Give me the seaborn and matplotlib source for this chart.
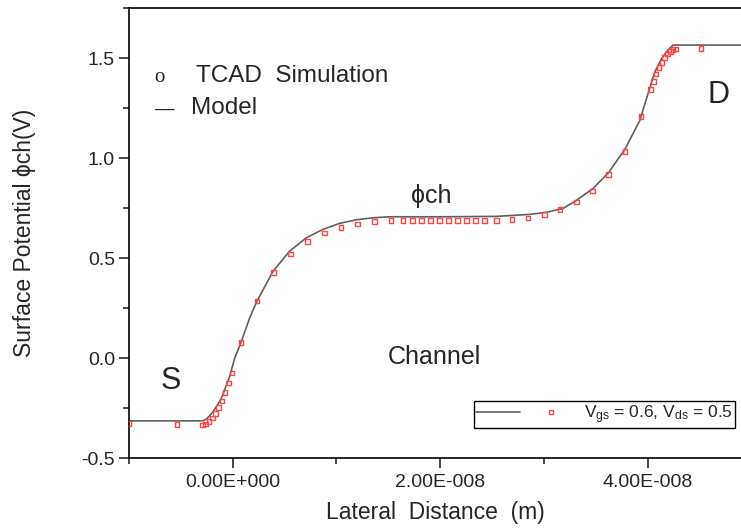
import numpy as np
import pandas as pd
import seaborn as sns
import matplotlib.pyplot as plt
from matplotlib.lines import Line2D
from matplotlib.legend_handler import HandlerTuple
from matplotlib.ticker import FixedLocator, AutoMinorLocator

# === Data (x in units of 1e-8 m) ===
tcad_x = [-1.0, -0.537, -0.292, -0.260, -0.228, -0.196, -0.164, -0.135, -0.103, -0.074,
          -0.041, -0.007, 0.080, 0.234, 0.395, 0.559, 0.723, 0.884, 1.044, 1.205,
          1.366, 1.526, 1.641, 1.732, 1.819, 1.906, 1.992, 2.079, 2.166, 2.253,
          2.339, 2.426, 2.542, 2.692, 2.846, 3.004, 3.155, 3.313, 3.467, 3.624,
          3.781, 3.935, 4.026, 4.055, 4.080, 4.109, 4.138, 4.161, 4.190, 4.219,
          4.244, 4.273, 4.514]
tcad_y = [-0.326, -0.332, -0.334, -0.329, -0.317, -0.299, -0.277, -0.247, -0.214, -0.170,
          -0.124, -0.074, 0.079, 0.286, 0.428, 0.521, 0.585, 0.627, 0.655, 0.672,
          0.683, 0.688, 0.688, 0.688, 0.688, 0.688, 0.688, 0.688, 0.688, 0.688,
          0.688, 0.688, 0.688, 0.693, 0.702, 0.718, 0.743, 0.782, 0.837, 0.919,
          1.036, 1.210, 1.345, 1.385, 1.422, 1.454, 1.480, 1.504, 1.522, 1.535,
          1.544, 1.547, 1.550]

model_x = [-1.0, -0.29, -0.26, -0.228, -0.196, -0.156, -0.108, -0.029, 0.019, 0.080,
           0.164, 0.234, 0.390, 0.549, 0.710, 0.870, 1.031, 1.192, 1.353, 1.513,
           2.0, 2.542, 2.863, 3.024, 3.184, 3.306, 3.474, 3.624, 3.781, 3.923,
           4.003, 4.067, 4.132, 4.195, 4.244, 4.9]
model_y = [-0.313, -0.313, -0.306, -0.291, -0.271, -0.242, -0.199, -0.090, 0.0, 0.079,
           0.202, 0.286, 0.436, 0.536, 0.603, 0.645, 0.675, 0.693, 0.703, 0.708,
           0.708, 0.710, 0.720, 0.730, 0.750, 0.787, 0.850, 0.929, 1.046, 1.188,
           1.322, 1.430, 1.497, 1.542, 1.567, 1.567]

xtick_vals = [0.0, 2e-8, 4e-8]
xtick_labels = ["0.00E+000", "2.00E-008", "4.00E-008"]

tcad = pd.DataFrame({"x": np.array(tcad_x) * 1e-8, "y": tcad_y})
model = pd.DataFrame({"x": np.array(model_x) * 1e-8, "y": model_y})

sns.set_style("ticks")
plt.rcParams["font.family"] = ["Liberation Sans", "DejaVu Sans"]
plt.rcParams["mathtext.fontset"] = "custom"
plt.rcParams["mathtext.rm"] = "Liberation Sans"
plt.rcParams["mathtext.it"] = "Liberation Sans"
plt.rcParams["axes.unicode_minus"] = False

fig = plt.figure(figsize=(7.41, 5.31), dpi=100)
ax = fig.add_axes([0.174, 0.137, 0.826, 0.847])

line_col = "#606060"
red = "#ff4444"

sns.lineplot(data=model, x="x", y="y", ax=ax, color=line_col, linewidth=1.2,
             legend=False, sort=False)
sns.scatterplot(data=tcad, x="x", y="y", ax=ax, marker="s", s=11,
                facecolor="none", edgecolor=red, linewidth=1.0, legend=False, zorder=3)

ax.set_xlim(-1e-8, 4.9e-8)
ax.set_ylim(-0.5, 1.75)

ax.xaxis.set_major_locator(FixedLocator(xtick_vals))
ax.set_xticklabels(xtick_labels)
ax.xaxis.set_minor_locator(FixedLocator([-1e-8, 1e-8, 3e-8]))
ax.set_yticks([-0.5, 0.0, 0.5, 1.0, 1.5])
ax.set_yticklabels(["-0.5", "0.0", "0.5", "1.0", "1.5"])
ax.yaxis.set_minor_locator(AutoMinorLocator(2))

ax.tick_params(which="major", direction="out", length=7, width=1.2, labelsize=14, pad=4)
ax.tick_params(which="minor", direction="out", length=4, width=1.2)
ax.tick_params(axis="y", pad=3)

for side in ["left", "bottom", "top"]:
    ax.spines[side].set_linewidth(1.2)
    ax.spines[side].set_color("black")
ax.spines["right"].set_visible(False)

ax.set_xlabel("Lateral  Distance  (m)", fontsize=16.5)
ax.set_ylabel("Surface Potential \u03d5ch(V)", fontsize=16.5)
ax.xaxis.set_label_coords(0.5, -0.095)
ax.yaxis.set_label_coords(-0.152, 0.5)

# annotations
ax.text(-0.752e-8, 1.383, "o", fontsize=15, family="Liberation Serif", ha="left", va="baseline")
ax.text(-0.350e-8, 1.383, "TCAD  Simulation", fontsize=17.5, ha="left", va="baseline")
ax.text(-0.752e-8, 1.2246, "\u2014", fontsize=14, ha="left", va="baseline")
ax.text(-0.398e-8, 1.2246, "Model", fontsize=17.5, ha="left", va="baseline")
ax.text(-0.598e-8, -0.152, "S", fontsize=22, ha="center", va="baseline")
ax.text(4.684e-8, 1.275, "D", fontsize=22, ha="center", va="baseline")
ax.text(1.947e-8, -0.029, "Channel", fontsize=18, ha="center", va="baseline")
ax.text(1.915e-8, 0.779, "\u03d5ch", fontsize=18, ha="center", va="baseline")

# legend
h_line = Line2D([], [], color=line_col, linewidth=1.2)
h_mark = Line2D([], [], linestyle="none", marker="s", markersize=3.0,
                markerfacecolor="none", markeredgecolor=red, markeredgewidth=1.0)
leg = ax.legend([(h_line, h_mark)], [r"V$_{\mathrm{gs}}$ = 0.6, V$_{\mathrm{ds}}$ = 0.5"],
                handler_map={tuple: HandlerTuple(ndivide=2, pad=0.5)},
                loc="lower right", bbox_to_anchor=(0.99, 0.068), borderaxespad=0,
                fontsize=12.5, handlelength=5.6, handletextpad=0.6,
                borderpad=0.12, fancybox=False, framealpha=1)
leg.get_frame().set_edgecolor("black")
leg.get_frame().set_linewidth(1.0)

plt.savefig("out.png", dpi=100)
